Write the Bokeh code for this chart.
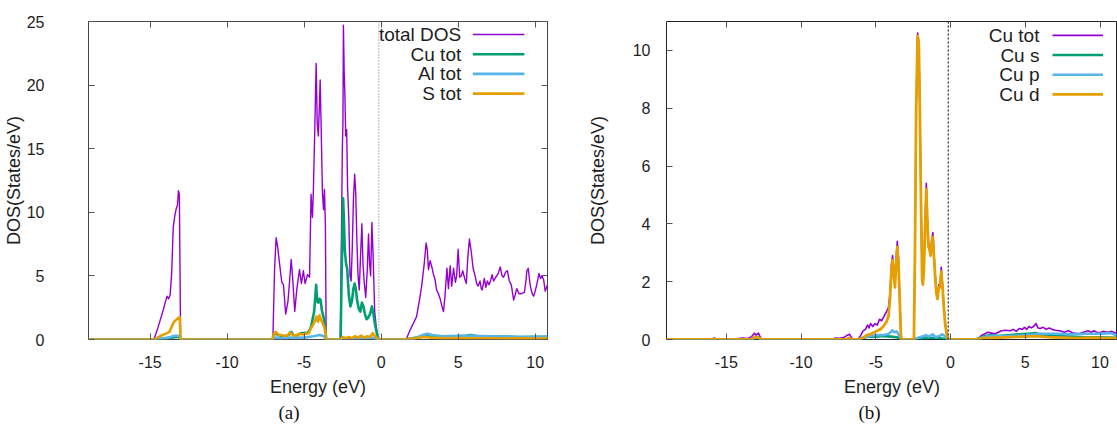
from bokeh.plotting import figure
from bokeh.layouts import row
from bokeh.models import (Range1d, Span, Label, LinearAxis, FixedTicker,
                          CustomJSTickFormatter, Title)
from bokeh.embed import file_html
from bokeh.resources import INLINE

FONT = "Liberation Sans"
SERIF = "Liberation Serif"
PURPLE = "#9400d3"
GREEN = "#009e73"
BLUE = "#56b4e9"
ORANGE = "#e69f00"
TEXT = "#1e1e1e"

# ---------------- data : panel (a) ----------------
X_TICKS = [-15, -10, -5, 0, 5, 10]
A_Y_TICKS = [0, 5, 10, 15, 20, 25]
B_Y_TICKS = [0, 2, 4, 6, 8, 10]
FERMI = -0.15

A_LABELS = ["total DOS", "Cu tot", "Al tot", "S tot"]
B_LABELS = ["Cu tot", "Cu s", "Cu p", "Cu d"]

A_TOTAL_E = [
    -19.0, -14.75, -14.55, -14.35, -14.15, -14.0, -13.9, -13.8, -13.7, -13.6, -13.5, -13.4, -13.3, -13.22, -13.16, -13.1, -13.02,
    -7.03, -6.92, -6.82, -6.72, -6.6, -6.45, -6.34, -6.2, -6.05, -5.95, -5.84, -5.75, -5.61, -5.48, -5.3, -5.18, -5.05, -4.94,
    -4.78, -4.65, -4.55, -4.46, -4.4, -4.3, -4.22, -4.15, -4.08, -4.02, -3.96, -3.9, -3.81, -3.74, -3.68, -3.62, -3.57,
    -2.65, -2.57, -2.52, -2.48, -2.45, -2.4, -2.35, -2.3, -2.24, -2.18, -2.1, -2.02, -1.95, -1.88, -1.8, -1.72, -1.65,
    -1.58, -1.5, -1.42, -1.34, -1.25, -1.18, -1.1, -1.0, -0.9, -0.82, -0.75, -0.68, -0.6, -0.52, -0.42, -0.3, -0.18,
    1.62, 1.9, 2.1, 2.3, 2.5, 2.64, 2.8, 2.92, 3.0, 3.07,
    3.18, 3.29, 3.4, 3.5, 3.6, 3.72, 3.83, 3.95, 4.05, 4.15,
    4.27, 4.37, 4.48, 4.58, 4.7, 4.82, 4.9, 5.0, 5.1, 5.2,
    5.3, 5.42, 5.53, 5.63, 5.73, 5.85, 5.97, 6.1, 6.2, 6.3,
    6.42, 6.5, 6.56, 6.7, 6.8, 6.9, 7.0, 7.1, 7.2, 7.3,
    7.45, 7.6, 7.73, 7.85, 7.95, 8.08, 8.2, 8.32, 8.45, 8.6,
    8.7, 8.8, 8.95, 9.1, 9.3, 9.4, 9.46, 9.55, 9.67, 9.8,
    9.9, 10.0, 10.1, 10.25, 10.35, 10.45, 10.55, 10.65, 10.8,
]
A_TOTAL = [
    0, 0, 0.7, 1.5, 2.3, 3.0, 3.4, 3.2, 3.5, 5.2, 8.8, 9.7, 10.3, 10.6, 11.7, 11.4, 0,
    0, 5.5, 8.0, 7.3, 6.0, 4.5, 4.3, 2.0, 3.0, 4.5, 6.3, 4.9, 2.2, 3.9, 5.5, 4.4, 5.4, 4.4,
    5.1, 4.9, 11.4, 9.6, 11.7, 17.0, 21.7, 17.0, 16.0, 18.0, 20.4, 17.0, 11.5, 10.2, 11.8, 9.0, 0,
    0, 9.0, 15.0, 17.0, 24.7, 21.0, 19.0, 16.0, 16.5, 12.0, 9.5, 5.0, 4.6, 7.0, 11.0, 13.0, 11.5,
    8.0, 5.0, 3.9, 6.5, 9.1, 6.0, 4.5, 3.3, 5.5, 8.3, 6.0, 5.0, 9.2, 6.5, 2.2, 0.8, 0,
    0, 0.8, 1.3, 1.8, 3.2, 4.3, 6.0, 7.6, 7.0, 5.5,
    6.2, 5.7, 5.1, 4.7, 3.9, 3.6, 3.2, 2.6, 2.2, 3.5,
    5.6, 4.0, 5.8, 4.2, 5.6, 4.5, 5.0, 7.1, 4.9, 5.0,
    5.4, 4.8, 4.4, 6.5, 7.9, 6.9, 5.6, 5.0, 4.4, 4.2,
    4.6, 4.0, 3.9, 4.8, 4.1, 4.6, 4.3, 4.6, 5.1, 4.6,
    4.9, 5.2, 5.7, 5.0, 4.9, 5.3, 5.4, 4.6, 4.3, 3.1,
    3.5, 4.0, 3.6, 3.6, 3.7, 4.6, 5.4, 5.6, 4.3, 3.6,
    3.4, 3.8, 4.3, 5.2, 4.8, 5.0, 4.7, 3.8, 4.3,
]

A_CU_E = [
    -19.0, -14.7, -14.3, -14.0, -13.6, -13.3, -13.1, -13.02,
    -7.05, -7.0, -6.85, -6.7, -6.5, -6.2, -6.0, -5.85, -5.7, -5.5, -5.3, -5.1, -4.9, -4.7, -4.55,
    -4.45, -4.35, -4.28, -4.22, -4.15, -4.08, -4.0, -3.93, -3.85, -3.75, -3.65, -3.57,
    -2.63, -2.58, -2.52, -2.47, -2.42, -2.36, -2.28, -2.2, -2.1, -2.0, -1.9, -1.8, -1.72, -1.65,
    -1.55, -1.45, -1.35, -1.25, -1.15, -1.05, -0.95, -0.85, -0.72, -0.6, -0.5, -0.4, -0.28, -0.18,
    1.6, 2.0, 2.5, 3.0, 3.5, 4.0, 4.5, 5.0, 5.5, 5.8, 6.2, 7.0, 8.0, 9.0, 10.0, 10.8,
]
A_CU = [
    0, 0, 0.05, 0.1, 0.15, 0.2, 0.2, 0,
    0, 0.3, 0.5, 0.35, 0.3, 0.25, 0.35, 0.6, 0.35, 0.3, 0.45, 0.5, 0.5, 0.6, 1.0,
    1.6, 2.2, 3.3, 4.3, 3.0, 2.9, 3.2, 3.1, 2.3, 1.8, 1.2, 0,
    0, 4.0, 8.0, 11.1, 9.5, 7.0, 6.0, 5.5, 3.5, 2.6, 3.0, 4.0, 4.4, 4.0,
    3.0, 2.4, 2.2, 2.9, 2.6, 2.0, 1.6, 1.7, 2.0, 2.6, 2.0, 1.2, 0.5, 0,
    0, 0.1, 0.2, 0.25, 0.2, 0.2, 0.25, 0.25, 0.3, 0.35, 0.28, 0.25, 0.22, 0.2, 0.22, 0.2,
]

A_AL_E = [
    -19.0, -14.6, -14.2, -13.8, -13.4, -13.1, -13.02,
    -7.05, -6.9, -6.5, -5.8, -5.0, -4.4, -4.0, -3.7, -3.57,
    -2.63, -2.4, -1.5, -0.6, -0.18,
    1.6, 2.2, 2.7, 3.0, 3.3, 4.0, 5.0, 6.0, 7.0, 8.0, 9.0, 10.0, 10.8,
]
A_AL = [
    0, 0, 0.1, 0.15, 0.3, 0.3, 0,
    0, 0.15, 0.1, 0.15, 0.15, 0.25, 0.35, 0.25, 0,
    0, 0.1, 0.1, 0.15, 0,
    0, 0.1, 0.35, 0.45, 0.35, 0.25, 0.3, 0.3, 0.25, 0.25, 0.2, 0.2, 0.25,
]

A_S_E = [
    -19.0, -14.65, -14.5, -14.3, -14.1, -13.9, -13.75, -13.6, -13.45, -13.3, -13.15, -13.08, -13.02,
    -7.05, -6.98, -6.85, -6.7, -6.5, -6.3, -6.1, -5.9, -5.75, -5.5, -5.3, -5.1, -4.9, -4.7, -4.55,
    -4.4, -4.28, -4.2, -4.1, -4.0, -3.92, -3.8, -3.7, -3.6, -3.57,
    -2.63, -2.5, -2.3, -2.1, -1.9, -1.7, -1.5, -1.3, -1.1, -0.9, -0.7, -0.55, -0.42, -0.18,
    1.6, 2.2, 2.8, 3.2, 4.0, 5.0, 6.0, 7.0, 8.0, 9.0, 10.0, 10.8,
]
A_S = [
    0, 0, 0.15, 0.3, 0.4, 0.5, 0.6, 1.0, 1.4, 1.55, 1.7, 1.75, 0,
    0, 0.4, 0.6, 0.4, 0.35, 0.3, 0.3, 0.55, 0.35, 0.3, 0.45, 0.4, 0.45, 0.5, 0.9,
    1.2, 1.5, 1.8, 1.4, 1.9, 1.6, 1.3, 1.0, 0.5, 0,
    0, 0.2, 0.1, 0.2, 0.1, 0.25, 0.15, 0.3, 0.15, 0.25, 0.2, 0.5, 0.3, 0,
    0, 0.1, 0.2, 0.15, 0.1, 0.12, 0.1, 0.1, 0.08, 0.1, 0.08, 0.1,
]

# ---------------- data : panel (b) ----------------
B_CUTOT_E = [
    -19.0, -16.0, -15.8, -15.6, -14.5, -14.2, -13.9, -13.6, -13.3, -13.12, -13.0, -12.85, -12.7, -12.6,
    -7.9, -7.7, -7.4, -7.1, -6.9, -6.75, -6.6, -6.5,
    -6.2, -6.0, -5.85, -5.7, -5.55, -5.45, -5.35, -5.2, -5.05, -4.9, -4.75, -4.6, -4.45,
    -4.3, -4.15, -4.05, -3.95, -3.88, -3.8, -3.72, -3.64, -3.56, -3.48, -3.4, -3.32, -3.27,
    -2.45, -2.38, -2.3, -2.2, -2.12, -2.05, -1.98, -1.9, -1.85, -1.78, -1.7, -1.62, -1.55, -1.47, -1.4,
    -1.33, -1.25, -1.18, -1.1, -1.02, -0.95, -0.87, -0.78, -0.7, -0.62, -0.52, -0.45, -0.35, -0.25, -0.15,
    1.6, 1.9, 2.1, 2.3, 2.5, 2.75, 3.0, 3.2, 3.4, 3.7,
    4.0, 4.2, 4.4, 4.6, 4.8, 4.95, 5.1, 5.25, 5.4, 5.55,
    5.72, 5.85, 6.0, 6.2, 6.4, 6.6, 6.8, 7.0, 7.3, 7.6,
    7.9, 8.2, 8.6, 8.9, 9.2, 9.4, 9.6, 9.9, 10.2, 10.5,
    10.8, 11.1,
]
B_CUTOT = [
    0, 0, 0.05, 0, 0, 0.03, 0.05, 0.03, 0.1, 0.22, 0.15, 0.22, 0.05, 0,
    0, 0.05, 0.04, 0.08, 0.15, 0.18, 0.05, 0,
    0, 0.15, 0.3, 0.35, 0.5, 0.4, 0.55, 0.45, 0.55, 0.5, 0.7, 0.65, 0.8,
    0.95, 1.1, 1.6, 2.6, 2.9, 2.5, 1.9, 2.8, 3.4, 2.8, 1.5, 0.2, 0,
    0, 3.0, 8.0, 10.6, 10.3, 8.0, 5.0, 2.2, 2.0, 2.5, 4.0, 5.4, 4.2, 3.3, 3.2,
    3.0, 3.5, 3.7, 2.9, 2.2, 1.7, 1.5, 1.9, 1.9, 2.5, 1.8, 1.2, 0.6, 0.2, 0,
    0, 0.05, 0.15, 0.2, 0.25, 0.22, 0.2, 0.25, 0.3, 0.32,
    0.3, 0.35, 0.28, 0.38, 0.35, 0.42, 0.35, 0.45, 0.4, 0.45,
    0.55, 0.4, 0.38, 0.42, 0.35, 0.4, 0.35, 0.32, 0.3, 0.25,
    0.3, 0.22, 0.2, 0.25, 0.3, 0.25, 0.3, 0.22, 0.28, 0.25,
    0.28, 0.2,
]

B_CUS_E = [
    -19.0, -13.3, -13.1, -12.8, -12.6, -6.2, -5.9, -5.5, -5.0, -4.5,
    -4.0, -3.6, -3.3, -2.45, -2.2, -1.5, -0.8, -0.15, 1.7, 2.2,
    2.6, 3.2, 4.0, 4.6, 5.2, 5.7, 6.2, 7.0, 8.0, 9.0,
    10.0, 11.1,
]
B_CUS = [
    0, 0, 0.05, 0.05, 0, 0, 0.05, 0.1, 0.1, 0.12,
    0.1, 0.08, 0, 0, 0.03, 0.05, 0.05, 0, 0, 0.1,
    0.15, 0.12, 0.15, 0.18, 0.2, 0.22, 0.15, 0.12, 0.1, 0.08,
    0.08, 0.06,
]

B_CUP_E = [
    -19.0, -13.3, -13.1, -12.8, -12.6, -6.2, -5.9, -5.4, -5.0, -4.6,
    -4.2, -4.0, -3.9, -3.75, -3.6, -3.45, -3.3, -2.45, -2.2, -1.9,
    -1.65, -1.45, -1.2, -1.0, -0.75, -0.55, -0.35, -0.15, 1.7, 2.2,
    2.6, 3.2, 4.0, 5.0, 6.0, 7.0, 8.0, 9.0, 10.0, 10.7,
    11.1,
]
B_CUP = [
    0, 0, 0.05, 0.05, 0, 0, 0.05, 0.12, 0.15, 0.15,
    0.18, 0.25, 0.32, 0.25, 0.28, 0.15, 0, 0, 0.05, 0.1,
    0.15, 0.1, 0.18, 0.08, 0.12, 0.18, 0.1, 0, 0, 0.08,
    0.12, 0.12, 0.12, 0.15, 0.2, 0.2, 0.18, 0.2, 0.2, 0.22,
    0.15,
]

B_CUD_E = [
    -19.0, -13.3, -13.1, -12.9, -12.7,
    -7.0, -6.8, -6.6,
    -6.1, -5.9, -5.6, -5.3, -5.0, -4.7, -4.5, -4.3, -4.15, -4.05,
    -3.95, -3.88, -3.8, -3.72, -3.64, -3.56, -3.48, -3.4, -3.32, -3.27,
    -2.45, -2.38, -2.3, -2.2, -2.12, -2.05, -1.98, -1.9, -1.85, -1.78, -1.7, -1.62, -1.55, -1.47, -1.4,
    -1.33, -1.25, -1.18, -1.1, -1.02, -0.95, -0.87, -0.78, -0.7, -0.62, -0.52, -0.45, -0.35, -0.25, -0.15,
    1.7, 2.2, 3.0, 4.0, 5.0, 5.7, 6.5, 7.5, 8.5, 9.5, 10.5, 11.1,
]
B_CUD = [
    0, 0, 0.08, 0.08, 0,
    0, 0.05, 0,
    0, 0.05, 0.15, 0.2, 0.28, 0.35, 0.45, 0.6, 0.8, 1.4,
    2.4, 2.75, 2.3, 1.8, 2.6, 3.2, 2.6, 1.4, 0.15, 0,
    0, 2.9, 7.9, 10.5, 10.2, 7.9, 4.9, 2.1, 1.9, 2.4, 3.9, 5.2, 4.1, 3.2, 3.1,
    2.9, 3.4, 3.55, 2.8, 2.1, 1.6, 1.4, 1.8, 1.8, 2.35, 1.7, 1.1, 0.5, 0.15, 0,
    0, 0.05, 0.06, 0.08, 0.1, 0.12, 0.08, 0.06, 0.05, 0.06, 0.05, 0.05,
]


def make_panel(width, xr, yr, yticks, series, labels, leg, fermi_color, fermi_dash,
               tag, tag_offset, min_left, min_right, y_std, y_lab_std, mirror_right,
               frame_color):
    p = figure(width=width, height=425, x_range=Range1d(*xr), y_range=Range1d(*yr),
               output_backend="svg", toolbar_location=None,
               min_border_left=min_left, min_border_right=min_right,
               min_border_top=21, min_border_bottom=86)
    p.grid.visible = False
    p.background_fill_color = "white"
    p.border_fill_color = "white"
    p.outline_line_color = frame_color
    p.outline_line_width = 1

    xa = p.xaxis[0]
    ya = p.yaxis[0]
    xa.ticker = FixedTicker(ticks=X_TICKS)
    ya.ticker = FixedTicker(ticks=yticks)
    # plain ASCII hyphen for negative tick values, as in the original
    xa.formatter = CustomJSTickFormatter(code="return String(tick)")
    xa.axis_label = "Energy (eV)"
    ya.axis_label = "DOS(States/eV)"
    for ax in (xa, ya):
        ax.axis_line_color = None
        ax.major_tick_in = 6
        ax.major_tick_out = 0
        ax.major_tick_line_color = "#555555"
        ax.minor_tick_line_color = None
        ax.major_label_text_font = FONT
        ax.major_label_text_font_size = "16px"
        ax.major_label_text_color = TEXT
        ax.axis_label_text_font = FONT
        ax.axis_label_text_font_size = "18px"
        ax.axis_label_text_font_style = "normal"
        ax.axis_label_text_color = TEXT
    xa.major_label_standoff = 16
    xa.axis_label_standoff = 6
    ya.major_label_standoff = y_std
    ya.axis_label_standoff = y_lab_std

    blank = CustomJSTickFormatter(code="return ''")
    top = LinearAxis(ticker=FixedTicker(ticks=X_TICKS), formatter=blank,
                     axis_line_color=None, major_tick_in=6, major_tick_out=0,
                     major_tick_line_color="#555555", minor_tick_line_color=None,
                     major_label_standoff=0, major_label_text_font_size="1px")
    p.add_layout(top, "above")
    if mirror_right:
        rgt = LinearAxis(ticker=FixedTicker(ticks=yticks), formatter=blank,
                         axis_line_color=None, major_tick_in=6, major_tick_out=0,
                         major_tick_line_color="#555555", minor_tick_line_color=None,
                         major_label_standoff=0, major_label_text_font_size="1px")
        p.add_layout(rgt, "right")

    p.add_layout(Span(location=FERMI, dimension="height", line_color=fermi_color,
                      line_dash=fermi_dash, line_width=1.2))

    for (xs, ys, color, lw) in series:
        p.line(xs, ys, line_color=color, line_width=lw, line_join="round")

    # gnuplot-style key: text right-aligned, then a line sample
    tx, lx0, lx1, y0, dy = leg
    for i, ((_, _, color, lw), lab) in enumerate(zip(series, labels)):
        yy = y0 - i * dy
        p.add_layout(Label(x=tx, y=yy, text=lab, text_align="right", text_baseline="middle",
                           text_font=FONT, text_font_size="19px", text_color=TEXT))
        p.segment(x0=[lx0], y0=[yy], x1=[lx1], y1=[yy], line_color=color, line_width=lw)

    p.add_layout(Title(text=tag, align="left", offset=tag_offset, text_font=SERIF,
                       text_font_size="19px", text_font_style="normal",
                       text_color="#111111", standoff=0), "below")
    return p


pa = make_panel(
    580, (-19, 10.8), (0, 25), A_Y_TICKS,
    [(A_TOTAL_E, A_TOTAL, PURPLE, 1.4), (A_CU_E, A_CU, GREEN, 2.6),
     (A_AL_E, A_AL, BLUE, 2.6), (A_S_E, A_S, ORANGE, 2.6)],
    A_LABELS, (5.2, 5.95, 9.3, 23.98, 1.55), "#8a8a8a", "1 2",
    "(a)", 190, 88, 33, 44, 0, True, "#444444")

pb = make_panel(
    537, (-19, 11.17), (0, 11), B_Y_TICKS,
    [(B_CUTOT_E, B_CUTOT, PURPLE, 1.6), (B_CUS_E, B_CUS, GREEN, 2.6),
     (B_CUP_E, B_CUP, BLUE, 2.6), (B_CUD_E, B_CUD, ORANGE, 2.8)],
    B_LABELS, (5.95, 6.82, 10.2, 10.52, 0.68), "#222222", "2 2",
    "(b)", 192, 86, 0, 16, 22, False, "#222222")

layout = row(pa, pb)
open("out.html", "w").write(file_html(layout, INLINE))
